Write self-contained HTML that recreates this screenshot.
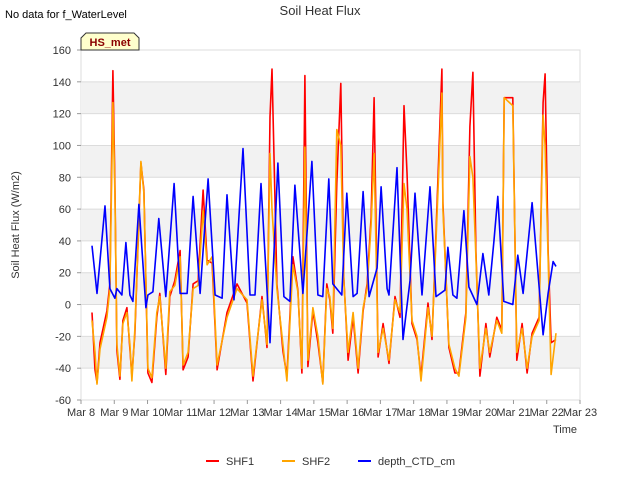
<!DOCTYPE html>
<html><head><meta charset="utf-8"><style>
body{margin:0;background:#fff;font-family:"Liberation Sans",sans-serif}
svg text{font-family:"Liberation Sans",sans-serif}
</style></head><body>
<svg id="c" width="640" height="480" xmlns="http://www.w3.org/2000/svg">
<text x="5" y="18" font-size="11" fill="#000">No data for f_WaterLevel</text>
<text x="320" y="15" font-size="13" fill="#333" text-anchor="middle">Soil Heat Flux</text>
<g id="plot"></g>
<text x="565" y="433" font-size="11" fill="#333" text-anchor="middle">Time</text>
<text x="19" y="225" font-size="11" fill="#333" text-anchor="middle" transform="rotate(-90 19 225)">Soil Heat Flux (W/m2)</text>
<g>
<path d="M81,50 L81,38 L86,33 L134,33 L139,38 L139,50 Z" fill="#ffffcc" stroke="#333" stroke-width="1"/>
<text x="110" y="46" font-size="11" font-weight="bold" fill="#8b0000" text-anchor="middle">HS_met</text>
</g>
<g>
<g><line x1="206" y1="461" x2="219" y2="461" stroke="#ff0000" stroke-width="2"/><text x="226" y="465" font-size="11" fill="#333">SHF1</text></g>
<g><line x1="282" y1="461" x2="295" y2="461" stroke="#ffa500" stroke-width="2"/><text x="302" y="465" font-size="11" fill="#333">SHF2</text></g>
<g><line x1="358" y1="461" x2="371" y2="461" stroke="#0000ff" stroke-width="2"/><text x="378" y="465" font-size="11" fill="#333">depth_CTD_cm</text></g>
</g>
</svg>
<script>
const xTicks=["Mar 8","Mar 9","Mar 10","Mar 11","Mar 12","Mar 13","Mar 14","Mar 15","Mar 16","Mar 17","Mar 18","Mar 19","Mar 20","Mar 21","Mar 22","Mar 23"];
const yTicks=[-60,-40,-20,0,20,40,60,80,100,120,140,160];
const depthT=[8.33,8.48,8.72,8.87,9.02,9.08,9.23,9.35,9.47,9.56,9.74,9.95,10.01,10.16,10.34,10.55,10.80,10.98,11.19,11.37,11.58,11.82,12.03,12.24,12.39,12.60,12.87,13.08,13.23,13.41,13.68,13.92,14.10,14.28,14.43,14.67,14.94,15.12,15.27,15.45,15.57,15.84,15.99,16.18,16.30,16.48,16.66,16.90,17.02,17.20,17.26,17.50,17.68,17.89,18.04,18.25,18.49,18.67,18.94,19.03,19.18,19.30,19.51,19.66,19.90,20.08,20.26,20.41,20.53,20.71,20.98,21.13,21.29,21.56,21.89,22.04,22.19,22.28];
const depthV=[37,7,62,10,4,10,6,39,6,2,63,-2,6,8,54,5,76,7,7,68,7,79,6,4,69,3,98,6,6,76,-24,89,5,2,75,7,90,6,5,79,13,6,70,5,7,71,5,23,74,10,6,86,-22,15,70,6,74,5,9,36,6,4,59,11,0,32,6,39,68,2,0,31,7,64,-19,7,27,24];
const shfT=[8.33,8.42,8.48,8.57,8.78,8.87,8.96,9.02,9.08,9.17,9.26,9.38,9.47,9.53,9.62,9.80,9.89,10.01,10.13,10.28,10.37,10.55,10.67,10.82,10.98,11.07,11.22,11.37,11.52,11.67,11.79,11.94,12.09,12.39,12.69,12.99,13.17,13.44,13.59,13.68,13.74,13.89,14.07,14.19,14.37,14.52,14.64,14.73,14.82,14.97,15.12,15.27,15.39,15.48,15.57,15.69,15.81,15.90,16.03,16.18,16.33,16.48,16.60,16.72,16.81,16.93,17.08,17.26,17.44,17.59,17.71,17.80,17.95,18.10,18.22,18.43,18.55,18.67,18.85,18.88,19.06,19.24,19.36,19.57,19.69,19.78,19.87,19.99,20.17,20.29,20.50,20.65,20.72,20.98,21.10,21.26,21.41,21.56,21.77,21.89,21.95,22.04,22.13,22.28];
const shf1V=[-5,-41,-49,-24,-4,13,147,76,-29,-47,-10,-2,-28,-45,-18,89,72,-43,-49,-8,7,-44,5,15,34,-41,-33,13,15,72,28,26,-41,-5,13,1,-48,5,-27,118,148,13,-29,-45,30,9,-43,144,-39,-4,-24,-49,13,3,-18,76,139,17,-35,-8,-43,-4,13,55,130,-33,-12,-37,5,-8,125,83,-12,-22,-45,1,-22,45,148,64,-27,-43,-43,-5,112,146,34,-45,-12,-33,-8,-16,130,130,-35,-12,-43,-18,-8,127,145,34,-24,-22];
const shf2V=[-10,-30,-50,-28,-8,10,127,70,-25,-45,-12,-5,-25,-48,-15,90,70,-40,-46,-5,5,-40,8,12,30,-38,-30,10,12,59,25,30,-38,-8,10,3,-45,3,-25,95,60,10,-25,-48,25,8,-40,99,-35,-2,-20,-50,10,5,-15,110,100,15,-30,-5,-40,-2,10,50,95,-30,-15,-35,3,-5,76,60,-10,-20,-48,-2,-20,40,133,60,-25,-40,-45,-8,93,80,30,-40,-15,-30,-10,-18,130,125,-30,-15,-40,-20,-10,119,100,30,-44,-18];
const X0=81,X1=580,Y0=50,Y1=400;
const xs=t=>X0+(t-8)*(X1-X0)/15;
const ys=v=>Y1-(v+60)*(Y1-Y0)/220;
const NS="http://www.w3.org/2000/svg";
const g=document.getElementById('plot');
function mk(tag,attrs,parent){const e=document.createElementNS(NS,tag);for(const k in attrs)e.setAttribute(k,attrs[k]);(parent||g).appendChild(e);return e;}
const bg=mk('rect',{x:X0,y:Y0,width:X1-X0,height:Y1-Y0,fill:'#fff',stroke:'#ddd'});


for(let i=0;i<yTicks.length-1;i++){
  if(((yTicks[i]%40)+40)%40===0){
    const b=mk('rect',{x:X0,y:ys(yTicks[i+1]),width:X1-X0,height:ys(yTicks[i])-ys(yTicks[i+1]),fill:'#f2f2f2'});
    
    
  }
}
yTicks.forEach(v=>{
  const l=mk('line',{x1:X0,x2:X1,y1:ys(v),y2:ys(v),stroke:'#dcdcdc','stroke-width':1});
  
  
  const tk=mk('line',{x1:X0-4,x2:X0,y1:ys(v),y2:ys(v),stroke:'#999'});
  
  
  const t=mk('text',{x:X0-10,y:ys(v)+4,'font-size':11,fill:'#333','text-anchor':'end'});
  t.textContent=v;
  
  
});
xTicks.forEach((s,i)=>{
  const x=xs(8+i);
  const tk=mk('line',{x1:x,x2:x,y1:Y1,y2:Y1+4,stroke:'#999'});
  
  
  const t=mk('text',{x:x,y:Y1+16,'font-size':11,fill:'#333','text-anchor':'middle'});
  t.textContent=s;
  
  
});
function series(T,V,color,name){
  const d=T.map((t,i)=>(i?'L':'M')+xs(t).toFixed(1)+','+ys(V[i]).toFixed(1)).join(' ');
  const p=mk('path',{d:d,fill:'none',stroke:color,'stroke-width':1.6,'stroke-linejoin':'round'});
  
  
}
series(shfT,shf1V,'#ff0000','shf1-line');
series(shfT,shf2V,'#ffa500','shf2-line');
series(depthT,depthV,'#0000ff','depth-ctd-line');
</script>
</body></html>
